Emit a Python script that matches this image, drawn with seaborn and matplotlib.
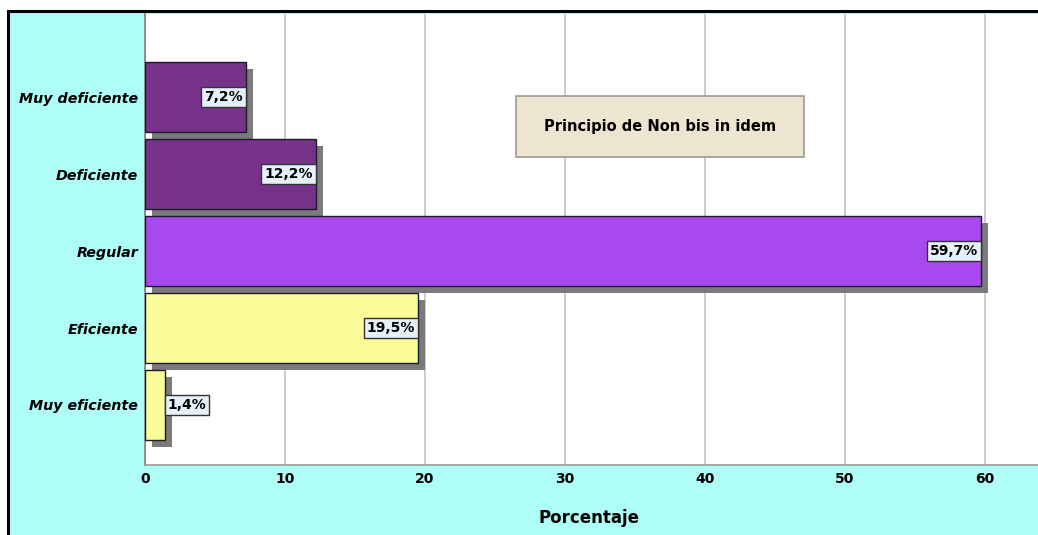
import matplotlib
matplotlib.use("Agg")
import matplotlib.pyplot as plt
import matplotlib.patheffects as pe
from matplotlib.patches import Rectangle
import seaborn as sns
import pandas as pd

categories = ["Muy deficiente", "Deficiente", "Regular", "Eficiente", "Muy eficiente"]
percentages = [7.2, 12.2, 59.7, 19.5, 1.4]
bar_colors = ["#763389", "#763389", "#A849F0", "#FBFB9A", "#FBFB9A"]
x_ticks = [0, 10, 20, 30, 40, 50, 60]
chart_title = "Principio de Non bis in idem"
x_label = "Porcentaje"

df = pd.DataFrame({"categoria": categories, "porcentaje": percentages})

sns.set_theme(style="white")
plt.rcParams["font.family"] = ["DejaVu Sans"]
plt.rcParams["text.color"] = "black"

W, H = 1038, 535
fig = plt.figure(figsize=(W / 100, H / 100), dpi=100, facecolor="white")

# cyan chart frame with black border (bottom/right run past the edges)
fig.patches.append(Rectangle((8 / W, -0.05), 1.1, 1 - 11 / H + 0.05,
                             transform=fig.transFigure, facecolor="#AEFDF7",
                             edgecolor="black", linewidth=2.2, zorder=-5))

ax_left, ax_right = 145 / W, 1.0
ax_top, ax_bottom = 1 - 14 / H, 1 - 465 / H
ax = fig.add_axes([ax_left, ax_bottom, ax_right - ax_left, ax_top - ax_bottom])
ax.set_zorder(1)
ax.set_facecolor("white")

sns.barplot(data=df, x="porcentaje", y="categoria", hue="categoria",
            palette=bar_colors, orient="h", width=0.9, legend=False,
            edgecolor="#1A1A2A", linewidth=1.0, saturation=1, ax=ax, zorder=3)

for bar in ax.patches:
    bar.set_path_effects([pe.SimplePatchShadow(offset=(5, -5), shadow_rgbFace="#7A7A7A", alpha=1.0),
                          pe.Normal()])

ax.set_xlim(0, (W - 145) / 14)
ax.set_ylim(4.78, -1.08)
ax.set_xticks(x_ticks)
ax.set_xticklabels([str(t) for t in x_ticks], fontweight="bold", fontsize=10)
ax.set_yticks(range(len(categories)))
ax.set_yticklabels(categories, fontweight="bold", fontstyle="italic", fontsize=10.3)
ax.tick_params(axis="both", length=0, pad=5, colors="black")
ax.xaxis.grid(True, color="#CCCCCC", linewidth=1.4, zorder=0)
ax.set_axisbelow(True)
ax.set_ylabel("")
ax.set_xlabel(x_label, fontweight="bold", fontsize=12, color="black")
ax.xaxis.set_label_coords(0.497, -0.097)

for side in ("top", "right"):
    ax.spines[side].set_visible(False)
ax.spines["left"].set_color("#808080")
ax.spines["bottom"].set_color("#999999")
ax.spines["left"].set_linewidth(1.2)
ax.spines["bottom"].set_linewidth(1.2)

# value labels in boxes at the end of each bar
box_style = dict(boxstyle="square,pad=0.2", facecolor="#E6F0FA", edgecolor="#333333", linewidth=1.0)
for i, v in enumerate(percentages):
    text = f"{v:.1f}".replace(".", ",") + "%"
    if v < 3:
        ax.annotate(text, xy=(v, i), xytext=(2.2, 0), textcoords="offset points",
                    ha="left", va="center", fontweight="bold", fontsize=10, color="black",
                    bbox=box_style, zorder=6)
    else:
        ax.annotate(text, xy=(v, i), xytext=(-2.2, 0), textcoords="offset points",
                    ha="right", va="center", fontweight="bold", fontsize=10, color="black",
                    bbox=box_style, zorder=6)

# title box
ax.add_patch(Rectangle((0.4155, 0.683), 0.3225, 0.135, transform=ax.transAxes,
                       facecolor="#EDE5D0", edgecolor="#999999", linewidth=1.2, zorder=5))
ax.text(0.5770, 0.7505, chart_title, transform=ax.transAxes, ha="center", va="center",
        fontweight="bold", fontsize=10.5, color="black", zorder=6)

fig.savefig("out.png", dpi=100, facecolor="white")
